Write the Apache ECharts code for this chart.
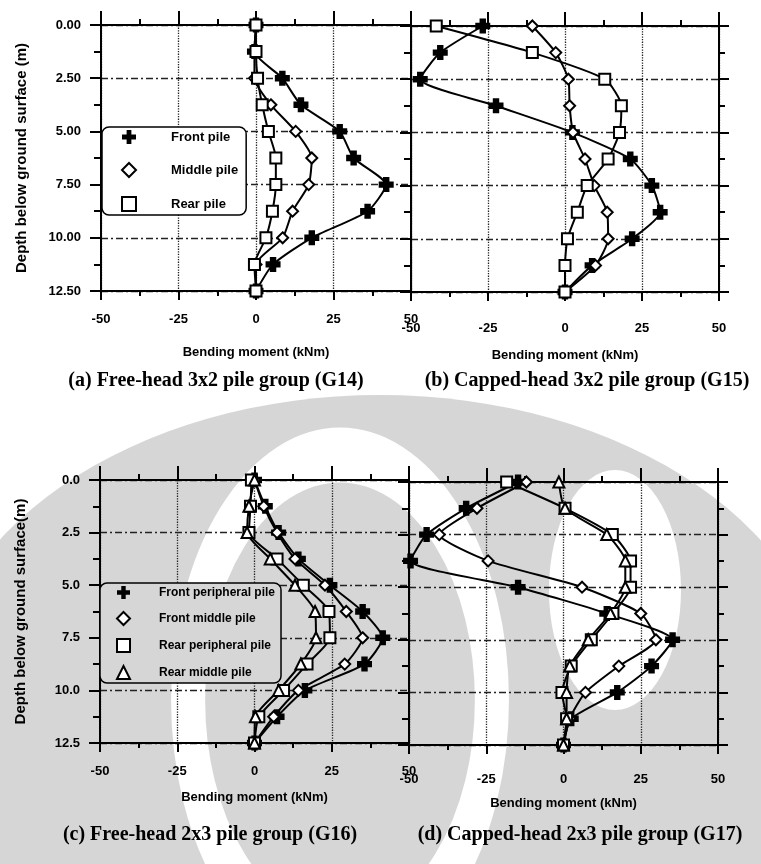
<!DOCTYPE html>
<html>
<head>
<meta charset="utf-8">
<script src="https://cdn.jsdelivr.net/npm/echarts@6/dist/echarts.min.js"></script>
<style>
  html, body { margin: 0; padding: 0; background: #fff; }
  #main { width: 761px; height: 864px; }
</style>
</head>
<body>
<div id="main"></div>
<script>
// depth below ground surface (m), same for every pile
var depths = [0, 1.25, 2.5, 3.75, 5, 6.25, 7.5, 8.75, 10, 11.25, 12.5];

// (a) G14 free-head 3x2
var g14Front  = [0, -0.5, 8.5, 14.5, 27, 31.5, 42, 36, 18, 5.5, 0];
var g14Middle = [0, -0.5, -0.5, 4.8, 12.8, 18, 17, 11.8, 8.6, 0, 0];
var g14Rear   = [0, 0, 0.5, 2, 4, 6.4, 6.4, 5.3, 3.2, -0.5, 0];

// (b) G15 capped-head 3x2
var g15Front  = [-26.7, -40.5, -47, -22.4, 2.4, 21.2, 28.2, 30.9, 21.8, 8.8, 0];
var g15Middle = [-10.6, -3, 1.1, 1.5, 2.6, 6.5, 9.5, 13.7, 14, 9.9, 0];
var g15Rear   = [-41.8, -10.6, 12.9, 18.3, 17.7, 14, 7.2, 4, 0.8, 0, 0];

// (c) G16 free-head 2x3
var g16FrontPeri = [0, 3.5, 7.8, 14.2, 24.4, 35, 41.5, 35.6, 16.3, 7.3, 0];
var g16FrontMid  = [0, 3, 7.3, 13.1, 22.8, 29.7, 35, 29.2, 14.2, 6.2, 0];
var g16RearPeri  = [-1, -1.3, -1.8, 7.3, 15.8, 24.1, 24.4, 17, 9.4, 1.4, 0];
var g16RearMid   = [0, -1.8, -2.4, 5.1, 13.1, 19.6, 19.9, 15, 7.8, 0.3, 0];

// (d) G17 capped-head 2x3
var g17FrontPeri = [-14.7, -31.5, -44.3, -49.5, -14.7, 14, 35.3, 28.5, 17.4, 2.5, 0];
var g17FrontMid  = [-12, -28, -40.2, -24.4, 6, 25, 29.9, 17.9, 7.1, 2, 0];
var g17RearPeri  = [-18.4, 0.5, 15.8, 21.7, 21.7, 16, 9, 2.5, -0.5, 1, 0];
var g17RearMid   = [-1.5, 0.5, 14, 20, 20, 15.2, 8, 2, 1, 1, 0];

var xTicks = [-50, -25, 0, 25, 50];
var captions = [
  '(a) Free-head 3x2 pile group (G14)',
  '(b) Capped-head 3x2 pile group (G15)',
  '(c) Free-head 2x3 pile group (G16)',
  '(d) Capped-head 2x3 pile group (G17)'
];

var plus = 'path://M3.3,0H6.7V3.3H10V6.7H6.7V10H3.3V6.7H0V3.3H3.3Z';
var black = '#000';
var sans = 'Liberation Sans';

var grids = [
  {left: 101, top: 25, width: 310, height: 266},
  {left: 411, top: 26, width: 308, height: 266},
  {left: 100, top: 480, width: 309, height: 263},
  {left: 409, top: 482, width: 309, height: 263}
];

function xAxes(p, margin, gap) {
  var line = {show: true, onZero: false, lineStyle: {color: black, width: 2}};
  return [{
    type: 'value', gridIndex: p, position: 'bottom', min: xTicks[0], max: xTicks[4], interval: 25,
    axisLine: line,
    axisTick: {length: 9, lineStyle: {color: black, width: 2}},
    minorTick: {show: true, splitNumber: 2, length: 5, lineStyle: {color: black, width: 2}},
    axisLabel: {margin: margin, color: black, fontSize: 13, fontWeight: 'bold', fontFamily: sans},
    splitLine: {show: true, lineStyle: {type: 'dotted', color: '#222', width: 1.3}},
    name: 'Bending moment (kNm)', nameLocation: 'middle', nameGap: gap,
    nameTextStyle: {color: black, fontSize: 13, fontWeight: 'bold', fontFamily: sans}
  }, {
    type: 'value', gridIndex: p, position: 'top', min: xTicks[0], max: xTicks[4], interval: 25,
    axisLine: line,
    axisTick: {length: 14, lineStyle: {color: black, width: 2}},
    minorTick: {show: true, splitNumber: 2, length: 6, lineStyle: {color: black, width: 2}},
    axisLabel: {show: false}, splitLine: {show: false}
  }];
}

function yAxes(p, labels, digits, name, rightSide) {
  var line = {show: true, onZero: false, lineStyle: {color: black, width: 2}};
  return [{
    type: 'value', gridIndex: p, position: 'left', inverse: true, min: 0, max: 12.5, interval: 2.5,
    axisLine: line,
    axisTick: {length: 11, lineStyle: {color: black, width: 2}},
    minorTick: {show: true, splitNumber: 2, length: 7, lineStyle: {color: black, width: 2}},
    axisLabel: {show: labels, margin: 20, color: black, fontSize: 13, fontWeight: 'bold', fontFamily: sans,
      formatter: function (v) { return v.toFixed(digits); }},
    splitLine: {show: true, lineStyle: {type: [7, 3, 2, 3], color: '#222', width: 1.3}},
    name: name, nameLocation: 'middle', nameGap: 72,
    nameTextStyle: {color: black, fontSize: 15, fontWeight: 'bold', fontFamily: sans}
  }, {
    type: 'value', gridIndex: p, position: 'right', inverse: true, min: 0, max: 12.5, interval: 2.5,
    show: rightSide,
    axisLine: line,
    axisTick: {length: 10, lineStyle: {color: black, width: 2}},
    minorTick: {show: true, splitNumber: 2, length: 6, lineStyle: {color: black, width: 2}},
    axisLabel: {show: false}, splitLine: {show: false}
  }];
}

function pile(p, name, vals, symbol, fill) {
  return {
    name: name, type: 'line', xAxisIndex: p * 2, yAxisIndex: p * 2,
    data: depths.map(function (d, i) { return [vals[i], d]; }),
    symbol: symbol, symbolSize: symbol === plus ? 13 : 11, smooth: 0.2,
    lineStyle: {color: black, width: 2},
    itemStyle: {color: fill, borderColor: black, borderWidth: 2},
    z: 5
  };
}

function caption(i, x, y) {
  return {type: 'text', x: x, y: y, z: 10, silent: true,
    style: {text: captions[i], fill: black, font: 'bold 20px "Liberation Serif"',
      textAlign: 'center', align: 'center', textVerticalAlign: 'middle', verticalAlign: 'middle'}};
}

var myChart = echarts.init(document.getElementById('main'));

myChart.setOption({
  backgroundColor: '#fff',
  animation: false,
  grid: grids,
  xAxis: [].concat(xAxes(0, 22, 55), xAxes(1, 30, 57), xAxes(2, 22, 48), xAxes(3, 28, 52)),
  yAxis: [].concat(
    yAxes(0, true, 2, 'Depth below ground surface (m)', false),
    yAxes(1, false, 2, '', true),
    yAxes(2, true, 1, 'Depth below ground surface(m)', false),
    yAxes(3, false, 1, '', true)
  ),
  legend: [{
    left: 102, top: 127, orient: 'vertical', selectedMode: false,
    itemWidth: 14, itemHeight: 14, itemGap: 18,
    padding: [3, 8, 3, 19],
    backgroundColor: '#fff', borderColor: black, borderWidth: 1.5, borderRadius: 7,
    textStyle: {color: black, fontSize: 13, fontWeight: 'bold', fontFamily: sans, padding: [0, 0, 0, 30]},
    data: [
      {name: 'Front pile', icon: plus, itemStyle: {color: black, borderWidth: 0}},
      {name: 'Middle pile', icon: 'diamond', itemStyle: {color: '#fff', borderColor: black, borderWidth: 2}},
      {name: 'Rear pile', icon: 'rect', itemStyle: {color: '#fff', borderColor: black, borderWidth: 2}}
    ]
  }, {
    left: 100, top: 583, orient: 'vertical', selectedMode: false,
    itemWidth: 13, itemHeight: 13, itemGap: 12,
    padding: [3, 6, 3, 16],
    backgroundColor: '#d6d6d6', borderColor: black, borderWidth: 1.5, borderRadius: 7,
    textStyle: {color: black, fontSize: 12, fontWeight: 'bold', fontFamily: sans, padding: [0, 0, 0, 24]},
    data: [
      {name: 'Front peripheral pile', icon: plus, itemStyle: {color: black, borderWidth: 0}},
      {name: 'Front middle pile', icon: 'diamond', itemStyle: {color: '#fff', borderColor: black, borderWidth: 2}},
      {name: 'Rear peripheral pile', icon: 'rect', itemStyle: {color: '#fff', borderColor: black, borderWidth: 2}},
      {name: 'Rear middle pile', icon: 'triangle', itemStyle: {color: '#fff', borderColor: black, borderWidth: 2}}
    ]
  }],
  graphic: [
    // watermark behind the lower pair of plots
    {type: 'circle', x: 380, y: 705, scaleX: 1.45, shape: {cx: 0, cy: 0, r: 310},
      style: {fill: '#d6d6d6'}, z: -10, silent: true},
    {type: 'circle', x: 340, y: 700, scaleX: 0.62, shape: {cx: 0, cy: 0, r: 245},
      style: {fill: 'none', stroke: '#fff', lineWidth: 55}, z: -9, silent: true},
    {type: 'circle', x: 615, y: 590, scaleX: 0.55, shape: {cx: 0, cy: 0, r: 120},
      style: {fill: '#fff'}, z: -9, silent: true},
    caption(0, 216, 381),
    caption(1, 587, 381),
    caption(2, 210, 835),
    caption(3, 580, 835)
  ],
  series: [
    pile(0, 'Front pile', g14Front, plus, black),
    pile(0, 'Middle pile', g14Middle, 'diamond', '#fff'),
    pile(0, 'Rear pile', g14Rear, 'rect', '#fff'),
    pile(1, 'Front pile', g15Front, plus, black),
    pile(1, 'Middle pile', g15Middle, 'diamond', '#fff'),
    pile(1, 'Rear pile', g15Rear, 'rect', '#fff'),
    pile(2, 'Front peripheral pile', g16FrontPeri, plus, black),
    pile(2, 'Front middle pile', g16FrontMid, 'diamond', '#fff'),
    pile(2, 'Rear peripheral pile', g16RearPeri, 'rect', '#fff'),
    pile(2, 'Rear middle pile', g16RearMid, 'triangle', '#fff'),
    pile(3, 'Front peripheral pile', g17FrontPeri, plus, black),
    pile(3, 'Front middle pile', g17FrontMid, 'diamond', '#fff'),
    pile(3, 'Rear peripheral pile', g17RearPeri, 'rect', '#fff'),
    pile(3, 'Rear middle pile', g17RearMid, 'triangle', '#fff')
  ]
});
</script>
</body>
</html>
